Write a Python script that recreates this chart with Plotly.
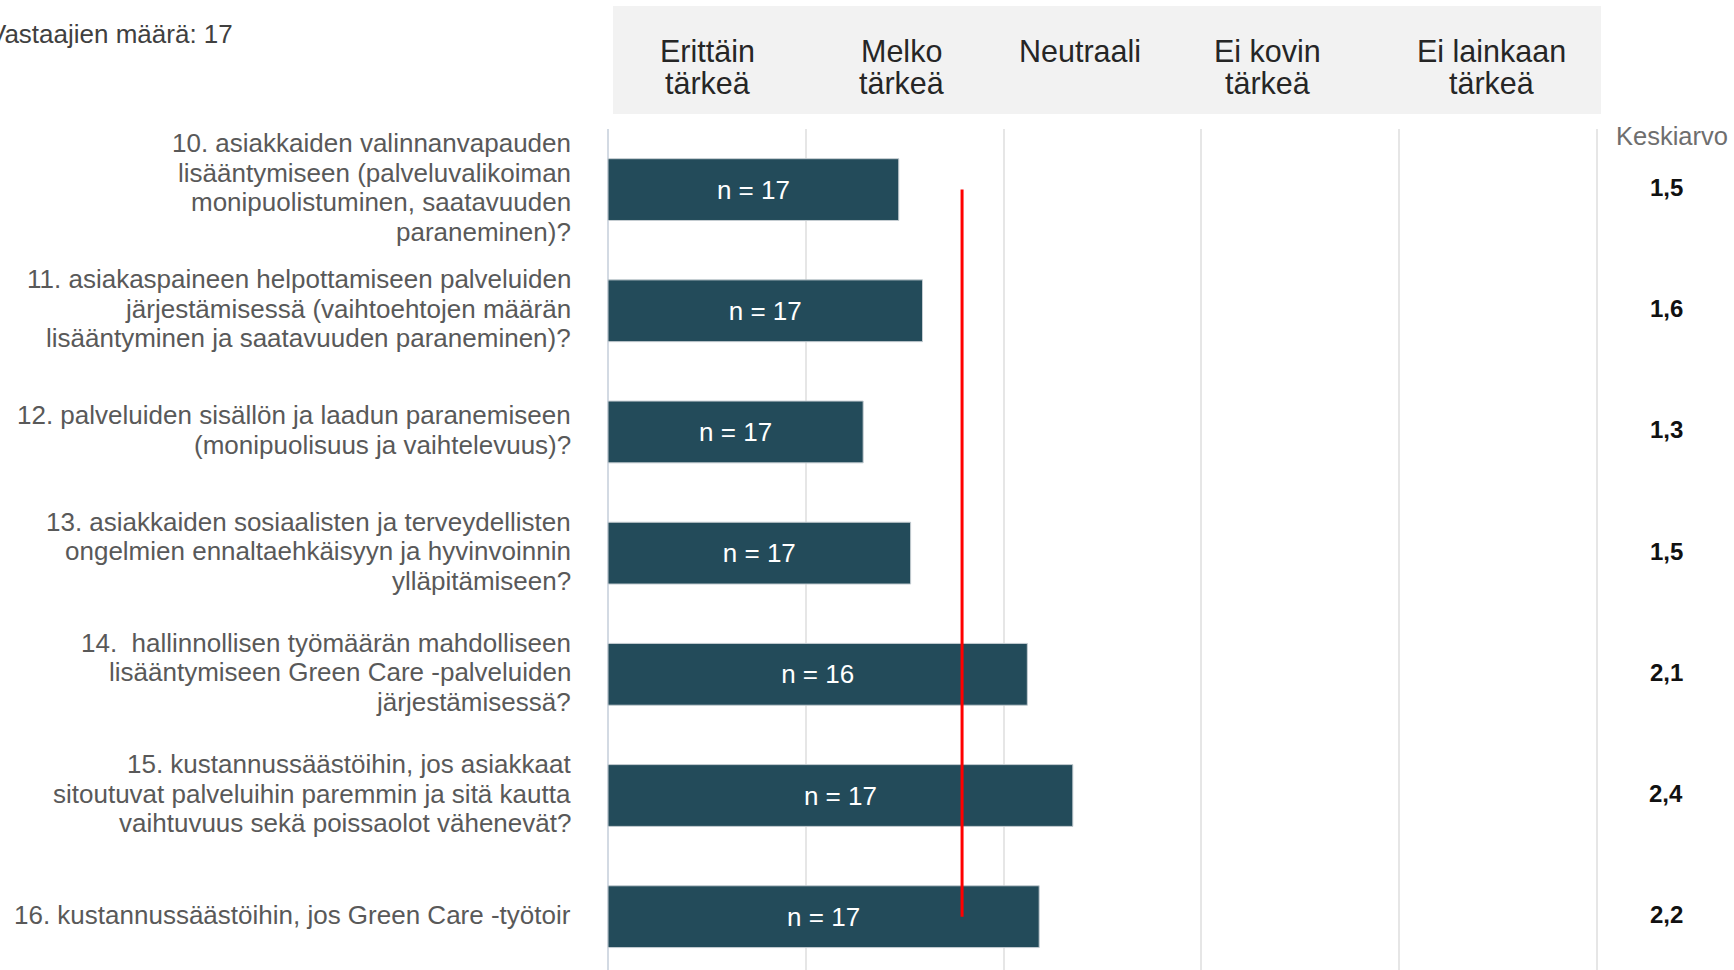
import plotly.graph_objects as go

# ---------------- data ----------------
questions = [
    "10. asiakkaiden valinnanvapauden<br>lisääntymiseen (palveluvalikoiman<br>monipuolistuminen, saatavuuden<br>paraneminen)?",
    "11. asiakaspaineen helpottamiseen palveluiden<br>järjestämisessä (vaihtoehtojen määrän<br>lisääntyminen ja saatavuuden paraneminen)?",
    "12. palveluiden sisällön ja laadun paranemiseen<br>(monipuolisuus ja vaihtelevuus)?",
    "13. asiakkaiden sosiaalisten ja terveydellisten<br>ongelmien ennaltaehkäisyyn ja hyvinvoinnin<br>ylläpitämiseen?",
    "14.  hallinnollisen työmäärän mahdolliseen<br>lisääntymiseen Green Care -palveluiden<br>järjestämisessä?",
    "15. kustannussäästöihin, jos asiakkaat<br>sitoutuvat palveluihin paremmin ja sitä kautta<br>vaihtuvuus sekä poissaolot vähenevät?",
    "16. kustannussäästöihin, jos Green Care -työtoir",
]
means = [1.47, 1.59, 1.29, 1.53, 2.12, 2.35, 2.18]
mean_labels = ["1,5", "1,6", "1,3", "1,5", "2,1", "2,4", "2,2"]
n_values = [17, 17, 17, 17, 16, 17, 17]
overall_mean = 1.79
scale_labels = ["Erittäin<br>tärkeä", "Melko<br>tärkeä", "Neutraali",
                "Ei kovin<br>tärkeä", "Ei lainkaan<br>tärkeä"]
respondents = 17
mean_header = "Keskiarvo"

# ---------------- layout constants ----------------
W, H = 1734, 970
FONT = "Liberation Sans, Arial, sans-serif"
BAR_COLOR = "#234b5a"
X0_PX, X5_PX = 608, 1597          # pixel position of value 0 and 5
PAD = 0.01
UNIT = (X5_PX - X0_PX) / 5.0
PLOT_TOP = 129
LABEL_RIGHT = 573
LABEL_LINE = 29.5
TEXT_LIFT = 2
HEADER_CENTERS = [707, 901, 1080, 1267, 1491]
HEADER_LINE1, HEADER_LINE = 51, 32
MEAN_X = 1666


def px(x):
    return x / W


def py(y):
    return 1 - y / H


ys = list(range(len(questions)))

fig = go.Figure()
fig.add_trace(go.Bar(
    x=means, y=ys, orientation="h", width=0.51,
    marker=dict(color=BAR_COLOR, line=dict(color="#c5cdd2", width=1)),
    text=[f"n = {n}" for n in n_values],
    textposition="inside", insidetextanchor="middle", textangle=0,
    constraintext="none",
    textfont=dict(family=FONT, size=26, color="white"),
    hoverinfo="skip", showlegend=False,
))
fig.add_trace(go.Scatter(
    x=[overall_mean, overall_mean], y=[ys[0], ys[-1]], mode="lines",
    line=dict(color="#ff0000", width=3), hoverinfo="skip", showlegend=False,
))

annotations = []
# question labels, one annotation per line
for i, q in enumerate(questions):
    lines = q.split("<br>")
    n = len(lines)
    for j, line in enumerate(lines):
        annotations.append(dict(
            x=px(LABEL_RIGHT), xref="paper", y=i, yref="y",
            xanchor="right", yanchor="middle", showarrow=False,
            yshift=((n - 1) / 2 - j) * LABEL_LINE + TEXT_LIFT,
            text=line, font=dict(family=FONT, size=26, color="#595959"),
        ))
# mean values
for i, m in enumerate(mean_labels):
    annotations.append(dict(
        x=px(MEAN_X), xref="paper", y=i, yref="y", xanchor="center",
        yanchor="middle", showarrow=False, text=f"<b>{m}</b>",
        yshift=TEXT_LIFT,
        font=dict(family=FONT, size=24, color="#111111"),
    ))
# header labels
for k, lab in enumerate(scale_labels):
    for j, line in enumerate(lab.split("<br>")):
        annotations.append(dict(
            x=px(HEADER_CENTERS[k]), xref="paper",
            y=py(HEADER_LINE1 + j * HEADER_LINE), yref="paper",
            xanchor="center", yanchor="middle", showarrow=False,
            text=line, font=dict(family=FONT, size=30.5, color="#262626"),
        ))
annotations.append(dict(
    x=px(1614), xref="paper", y=py(136), yref="paper", xanchor="left",
    yanchor="middle", showarrow=False, text=mean_header,
    font=dict(family=FONT, size=25.5, color="#6e6e6e"),
))
annotations.append(dict(
    x=px(-13), xref="paper", y=py(34), yref="paper", xanchor="left",
    yanchor="middle", showarrow=False,
    text=f"Vastaajien määrä: {respondents}",
    font=dict(family=FONT, size=26, color="#404040"),
))

fig.update_layout(
    width=W, height=H,
    margin=dict(l=0, r=0, t=0, b=0),
    paper_bgcolor="white", plot_bgcolor="white",
    font=dict(family=FONT),
    bargap=0.49,
    xaxis=dict(
        domain=[px(X0_PX - PAD * UNIT), px(X5_PX + PAD * UNIT)],
        range=[-PAD, 5 + PAD],
        tickvals=[0, 1, 2, 3, 4, 5], showticklabels=False, ticks="",
        showgrid=True, gridcolor="#e6e6e6", gridwidth=2,
        zeroline=True, zerolinecolor="#d3dae3", zerolinewidth=2,
        showline=False, fixedrange=True,
    ),
    yaxis=dict(
        domain=[0, py(PLOT_TOP)],
        range=[len(questions) - 0.56, -0.5],
        showticklabels=False, showgrid=False, zeroline=False,
        showline=False, ticks="", fixedrange=True,
    ),
    shapes=[dict(
        type="rect", xref="paper", yref="paper",
        x0=px(613), x1=px(1601), y0=py(114), y1=py(6),
        fillcolor="#f2f2f2", line=dict(width=0), layer="below",
    )],
    annotations=annotations,
)

fig.write_html(
    "out.html",
    config={"displayModeBar": False},
    post_script="document.body.style.margin='0';document.body.style.overflow='hidden';",
)
